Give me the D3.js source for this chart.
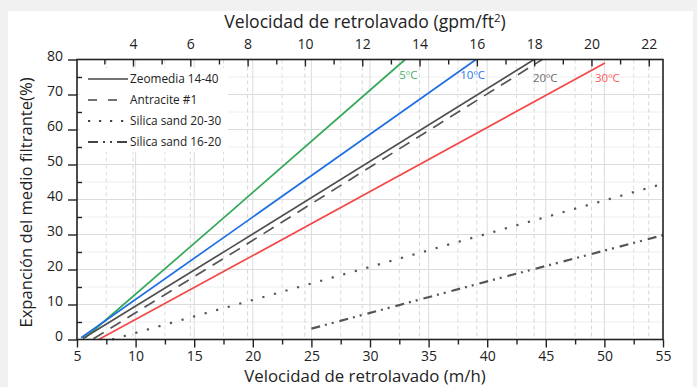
<!DOCTYPE html>
<html>
<head>
<meta charset="utf-8">
<script src="https://cdn.jsdelivr.net/npm/d3@7"></script>
<style>
  html, body { margin: 0; padding: 0; background: #f1f1f1; overflow: hidden; }
  text { font-family: 'Open Sans', sans-serif; fill: #222; }
</style>
</head>
<body>
<div id="chart"></div>
<script>
// Datos: [velocidad m/h, expansion %]
const zeo5C = [[5.7, 0.5], [18.05, 36.3], [33.0, 80]];
const zeo10C = [[5.35, 0.5], [18.05, 30.4], [39.05, 80]];
const zeo20C = [[5.5, 0.3], [18.05, 26.1], [44.0, 80]];
const zeo30C = [[6.85, 0], [18.05, 20.4], [50.05, 79]];
const antracite = [[6.4, 0.2], [18.6, 25.4], [44.7, 80]];
const silica2030 = [[8.0, 0], [25, 16.0], [54.6, 44.1]];
const silica1620 = [[25, 3.1], [40, 16.6], [55, 29.8]];

const xTicks = [5, 10, 15, 20, 25, 30, 35, 40, 45, 50, 55];
const yTicks = [0, 10, 20, 30, 40, 50, 60, 70, 80];
const gpmTicks = [4, 6, 8, 10, 12, 14, 16, 18, 20, 22];
const tempLabels = ['5ºC', '10ºC', '20ºC', '30ºC'];
const tempLabelPos = [[32.5, 74.3], [37.7, 74.3], [43.9, 73.5], [49.2, 73.5]];
const legendNames = ['Zeomedia 14-40', 'Antracite #1', 'Silica sand 20-30', 'Silica sand 16-20'];

const M3H_PER_GPM = 2.4448;

const W = 697, H = 387;
const margin = { top: 59.5, left: 77 };
const width = 586;
const height = 280;

const svg = d3.select('#chart').append('svg')
  .attr('width', W)
  .attr('height', H)
  .style('display', 'block');

// tarjeta blanca
svg.append('rect')
  .attr('x', 8).attr('y', 11)
  .attr('width', 685).attr('height', H - 11)
  .attr('fill', '#fff');

const g = svg.append('g')
  .attr('transform', `translate(${margin.left},${margin.top})`);

const x = d3.scaleLinear().domain([5, 55]).range([0, width]);
const y = d3.scaleLinear().domain([0, 80]).range([height, 0]);
const xTop = d3.scaleLinear().domain([5 / M3H_PER_GPM, 55 / M3H_PER_GPM]).range([0, width]);

// rejilla
const grid = g.append('g');
grid.selectAll('.hminor').data(d3.range(5, 80, 10)).enter().append('line')
  .attr('x1', 0).attr('x2', width)
  .attr('y1', d => y(d)).attr('y2', d => y(d))
  .attr('stroke', '#eeeeee').attr('stroke-width', 1);
grid.selectAll('.vminor').data(d3.range(7.5, 55, 5)).enter().append('line')
  .attr('x1', d => x(d)).attr('x2', d => x(d))
  .attr('y1', 0).attr('y2', height)
  .attr('stroke', '#dddddd').attr('stroke-dasharray', '4,3');
grid.selectAll('.vgpm').data(gpmTicks).enter().append('line')
  .attr('x1', d => xTop(d)).attr('x2', d => xTop(d))
  .attr('y1', 0).attr('y2', height)
  .attr('stroke', '#d6d6d6').attr('stroke-dasharray', '4,3');
grid.selectAll('.hmajor').data(yTicks.slice(1, -1)).enter().append('line')
  .attr('x1', 0).attr('x2', width)
  .attr('y1', d => y(d)).attr('y2', d => y(d))
  .attr('stroke', '#dcdcdc').attr('stroke-width', 1);
grid.selectAll('.vmajor').data(xTicks.slice(1, -1)).enter().append('line')
  .attr('x1', d => x(d)).attr('x2', d => x(d))
  .attr('y1', 0).attr('y2', height)
  .attr('stroke', '#dcdcdc').attr('stroke-width', 1);

// leyenda (fondo)
g.append('rect')
  .attr('x', 3).attr('y', 8.5).attr('width', 148).attr('height', 84)
  .attr('fill', '#fff');

// series
const line = d3.line().x(d => x(d[0])).y(d => y(d[1]));
const series = [
  { data: zeo5C, color: '#35a85a', dash: null, w: 1.7 },
  { data: zeo10C, color: '#1f6fe5', dash: null, w: 1.7 },
  { data: zeo20C, color: '#4f4f4f', dash: null, w: 1.7 },
  { data: antracite, color: '#555', dash: '12,8', w: 1.7 },
  { data: zeo30C, color: '#f44848', dash: null, w: 1.7 },
  { data: silica2030, color: '#555', dash: '2.2,9.8', w: 2.2 },
  { data: silica1620, color: '#555', dash: '9,5,2,5,2,6', w: 2.2 }
];
g.selectAll('.serie').data(series).enter().append('path')
  .attr('d', d => line(d.data))
  .attr('fill', 'none')
  .attr('stroke', d => d.color)
  .attr('stroke-width', d => d.w)
  .attr('stroke-dasharray', d => d.dash);

// etiquetas de temperatura
const tempColors = ['#45b36b', '#2a78ee', '#6a6a6a', '#ff5555'];
g.selectAll('.temp').data(tempLabels).enter().append('text')
  .attr('x', (d, i) => x(tempLabelPos[i][0]))
  .attr('y', (d, i) => y(tempLabelPos[i][1]))
  .style('font-size', '11.5px')
  .style('fill', (d, i) => tempColors[i])
  .text(d => d);

// leyenda
const legendDash = [null, '9,11', '2.2,8.8', '10,5,2,5,2,5'];
const legendW = [1.6, 1.6, 2.2, 2.2];
const lg = g.selectAll('.legend').data(legendNames).enter().append('g')
  .attr('transform', (d, i) => `translate(11,${19.5 + i * 21})`);
lg.append('line')
  .attr('x1', 0).attr('x2', 40)
  .attr('stroke', '#444')
  .attr('stroke-width', (d, i) => legendW[i])
  .attr('stroke-dasharray', (d, i) => legendDash[i]);
lg.append('text')
  .attr('x', 42).attr('dy', '0.35em')
  .style('font-size', '11.8px')
  .text(d => d);

// ejes
const axisColor = '#222';
g.append('g')
  .attr('transform', `translate(0,${height})`)
  .call(d3.axisBottom(x).tickValues(xTicks).tickSize(8).tickPadding(4));
g.append('g')
  .attr('transform', `translate(0,${height})`)
  .call(d3.axisBottom(x).tickValues(d3.range(7.5, 55, 2.5).filter(v => v % 5 !== 0)).tickSize(5).tickFormat(''));
g.append('g')
  .attr('class', 'yaxis')
  .call(d3.axisLeft(y).tickValues(yTicks).tickSize(9).tickPadding(5));
g.append('g')
  .call(d3.axisRight(y).tickValues(d3.range(5, 80, 10)).tickSize(5).tickFormat(''));
g.append('g')
  .call(d3.axisBottom(xTop).tickValues(gpmTicks).tickSize(7).tickFormat(''));
g.append('g')
  .call(d3.axisBottom(xTop).tickValues(d3.range(3, 23, 2)).tickSize(5).tickFormat(''));
g.append('g')
  .call(d3.axisTop(xTop).tickValues(gpmTicks).tickSize(0).tickPadding(11));

g.selectAll('.domain').remove();
g.selectAll('.tick line').attr('stroke', axisColor).attr('stroke-width', 1.4);
g.selectAll('.tick text')
  .style('font-family', "'Open Sans', sans-serif")
  .style('font-size', '14px')
  .attr('fill', '#222');
g.selectAll('.yaxis .tick text').attr('dy', '0.1em');

g.append('rect')
  .attr('width', width).attr('height', height)
  .attr('fill', 'none')
  .attr('stroke', axisColor).attr('stroke-width', 1.6);

// titulos
g.append('text')
  .attr('x', width / 2 - 5)
  .attr('y', height + 42.5)
  .attr('text-anchor', 'middle')
  .style('font-size', '16.8px')
  .text('Velocidad de retrolavado (m/h)');

const topTitle = g.append('text')
  .attr('x', width / 2 - 5)
  .attr('y', -32)
  .attr('text-anchor', 'middle')
  .style('font-size', '17.6px');
topTitle.append('tspan').text('Velocidad de retrolavado (gpm/ft');
topTitle.append('tspan').attr('dy', -6).style('font-size', '11.5px').text('2');
topTitle.append('tspan').attr('dy', 6).text(')');

g.append('text')
  .attr('transform', 'rotate(-90)')
  .attr('x', -height / 2 - 3)
  .attr('y', -45)
  .attr('text-anchor', 'middle')
  .style('font-size', '16.6px')
  .text('Expanción del medio filtrante(%)');
</script>
</body>
</html>
